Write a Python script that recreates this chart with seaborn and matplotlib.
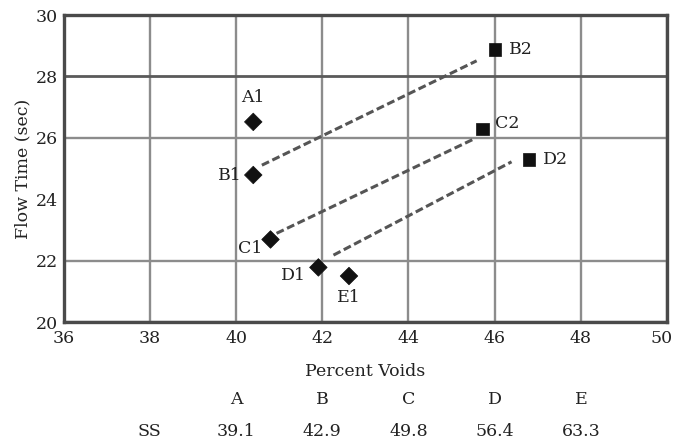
import matplotlib
matplotlib.use("Agg")
import matplotlib.pyplot as plt
import matplotlib.transforms as mtransforms
import seaborn as sns
import pandas as pd

# ---- data ----
point_labels = ["A1", "B1", "C1", "D1", "E1", "B2", "C2", "D2"]
percent_voids = [40.40, 40.40, 40.80, 41.91, 42.62, 46.00, 45.72, 46.80]
flow_time = [26.52, 24.79, 22.69, 21.78, 21.50, 28.88, 26.28, 25.30]
point_group = ["1", "1", "1", "1", "1", "2", "2", "2"]

trend_names = ["B", "C", "D"]
trend_x0 = [40.60, 40.94, 42.26]
trend_y0 = [25.11, 22.89, 22.18]
trend_x1 = [45.58, 45.54, 46.39]
trend_y1 = [28.51, 25.98, 25.22]

mix_names = ["A", "B", "C", "D", "E"]
ss_values = [39.1, 42.9, 49.8, 56.4, 63.3]
x_ticks = [36, 38, 40, 42, 44, 46, 48, 50]
y_ticks = [20, 22, 24, 26, 28, 30]

# label offsets (pixels) and alignment for each point label
label_offsets = {
    "A1": (0, 24, "center", "center"),
    "B1": (-12, 0, "right", "center"),
    "C1": (-8, -9, "right", "center"),
    "D1": (-12, -8, "right", "center"),
    "E1": (0, -21, "center", "center"),
    "B2": (14, 0, "left", "center"),
    "C2": (12, 6, "left", "center"),
    "D2": (14, 0, "left", "center"),
}

FS = 12.5
TXT = "#222222"

sns.set_theme(style="white")
plt.rcParams["font.family"] = ["DejaVu Serif", "Liberation Serif"]
plt.rcParams["font.size"] = FS

fig = plt.figure(figsize=(6.76, 4.43), dpi=100)
ax = fig.add_axes([0.094, 0.273, 0.893, 0.693])

df = pd.DataFrame({"voids": percent_voids, "flow": flow_time,
                   "group": point_group, "label": point_labels})

# dashed trend lines
for i in range(len(trend_names)):
    seg = pd.DataFrame({"x": [trend_x0[i], trend_x1[i]],
                        "y": [trend_y0[i], trend_y1[i]]})
    sns.lineplot(data=seg, x="x", y="y", ax=ax, color="#555555",
                 linewidth=2.2, linestyle=(0, (2.6, 1.2)), zorder=3,
                 sort=False)

sns.scatterplot(data=df, x="voids", y="flow", style="group",
                markers={"1": "D", "2": "s"}, color="#111111",
                s=80, edgecolor="#111111", linewidth=0.5, ax=ax,
                legend=False, zorder=4)

for lab, xv, yv in zip(point_labels, percent_voids, flow_time):
    dx, dy, ha, va = label_offsets[lab]
    ax.annotate(lab, (xv, yv), xytext=(dx, dy), textcoords="offset pixels",
                ha=ha, va=va, fontsize=FS, color=TXT)

ax.set_xlim(36, 50)
ax.set_ylim(20, 30)
ax.set_xticks(x_ticks)
ax.set_yticks(y_ticks)
ax.tick_params(axis="x", length=0, labelsize=FS, colors=TXT, pad=6)
ax.tick_params(axis="y", length=0, labelsize=FS, colors=TXT, pad=4)
ax.set_xlabel("Percent Voids", fontsize=FS, color=TXT, labelpad=11)
ax.set_ylabel("Flow Time (sec)", fontsize=FS, color=TXT, labelpad=3)

# keep the last x tick label inside the figure, as in the reference
last = ax.get_xticklabels()[-1]
last.set_transform(last.get_transform() +
                   mtransforms.ScaledTranslation(-4 / 72, 0,
                                                 fig.dpi_scale_trans))

ax.grid(True, color="#8c8c8c", linewidth=1.7)
ax.set_axisbelow(True)
for i, gl in enumerate(ax.yaxis.get_gridlines()):
    if y_ticks[i] == 24:
        gl.set_visible(False)
    if y_ticks[i] == 28:
        gl.set_color("#5a5a5a")
        gl.set_linewidth(2.0)

for sp in ax.spines.values():
    sp.set_color("#4a4a4a")
    sp.set_linewidth(2.4)

# table beneath the axis
trans = mtransforms.blended_transform_factory(ax.transData, fig.transFigure)
row1_y = 1 - 400 / 443
row2_y = 1 - 431 / 443
ax.text(38, row2_y, "SS", transform=trans, ha="center", va="center",
        fontsize=FS, color=TXT)
for j, (name, val) in enumerate(zip(mix_names, ss_values)):
    xpos = x_ticks[2 + j]
    ax.text(xpos, row1_y, name, transform=trans, ha="center", va="center",
            fontsize=FS, color=TXT)
    ax.text(xpos, row2_y, f"{val:.1f}", transform=trans, ha="center",
            va="center", fontsize=FS, color=TXT)

fig.savefig("out.png", dpi=100)
